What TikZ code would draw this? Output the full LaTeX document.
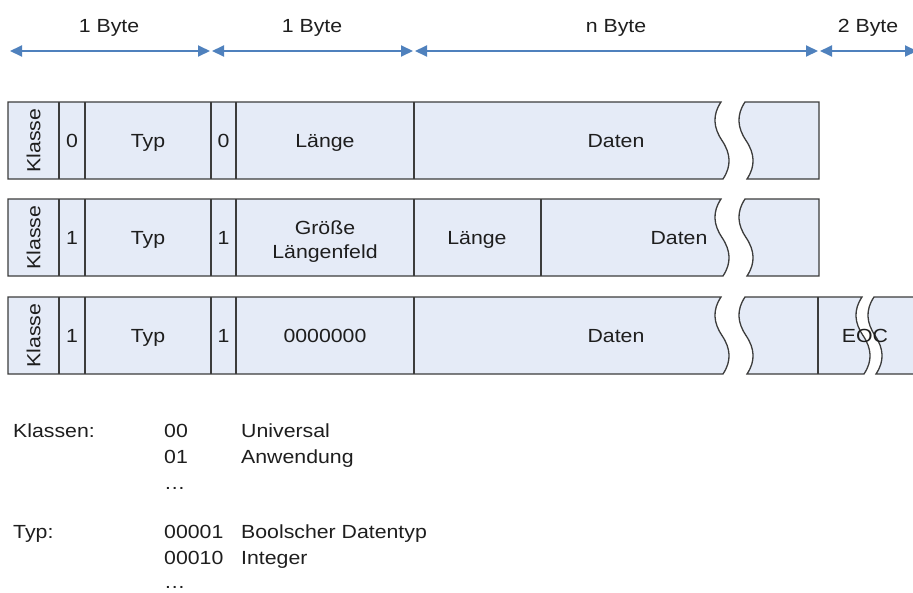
\documentclass[tikz,border=0pt]{standalone}
\usepackage{fontspec}
\usepackage{graphicx}
\setmainfont{Liberation Sans}
\usetikzlibrary{arrows.meta}

\definecolor{cellfill}{RGB}{229,235,247}
\definecolor{cellline}{RGB}{60,60,60}
\definecolor{spanblue}{RGB}{79,129,189}
\definecolor{inktext}{RGB}{30,30,30}

% slightly wide lettering
\newcommand\wtxt[1]{\scalebox{1.12}[1]{#1}}

\begin{document}
\begin{tikzpicture}[x=1pt,y=-1pt,
  every node/.style={font=\fontsize{19}{24}\selectfont, text=inktext, inner sep=0pt},
  cellbox/.style={fill=cellfill, draw=cellline, line width=1.3pt, line join=miter},
  sepline/.style={draw=cellline, line width=1.5pt},
  span/.style={draw=spanblue, line width=2pt,
    {Triangle[length=12pt,width=11pt]}-{Triangle[length=12pt,width=11pt]}},
  txt/.style={anchor=base},
  lbl/.style={anchor=base west},
]
\useasboundingbox (0,0) rectangle (913,592);

% ---- byte spans ----
\coordinate (s0) at (10,51);
\coordinate (s1) at (210,51);
\coordinate (s2) at (212,51);
\coordinate (s3) at (413,51);
\coordinate (s4) at (415,51);
\coordinate (s5) at (818,51);
\coordinate (s6) at (820,51);
\coordinate (s7) at (917,51);
\draw[span] (s0) -- (s1);
\draw[span] (s2) -- (s3);
\draw[span] (s4) -- (s5);
\draw[span] (s6) -- (s7);
\node[txt] (b1) at (109,32.5) {\wtxt{1 Byte}};
\node[txt] (b2) at (312,32.5) {\wtxt{1 Byte}};
\node[txt] (b3) at (616,32.5) {\wtxt{n Byte}};
\node[txt] (b4) at (868,32.5) {\wtxt{2 Byte}};

% ---- row 1: short length form ----
\begin{scope}[shift={(0,102)}]
  \path[cellbox] (8,0) -- (721,0)
    .. controls +(-8.7,13) and +(-8.7,-13) .. (722,38.5)
    .. controls +(8.7,13) and +(8.7,-13) .. (723,77) -- (8,77) -- cycle;
  \path[cellbox] (745,0) -- (819,0) -- (819,77) -- (747,77)
    .. controls +(8.7,-13) and +(8.7,13) .. (746,38.5)
    .. controls +(-8.7,-13) and +(-8.7,13) .. (745,0) -- cycle;
  \foreach \sx in {59,85,211,236,414} \draw[sepline] (\sx,0) -- (\sx,77);
  \node[rotate=90] (k1) at (33.5,38.5) {\wtxt{Klasse}};
  \node[txt] (f1) at (72,45) {\wtxt{0}};
  \node[txt] (t1) at (148,45) {\wtxt{Typ}};
  \node[txt] (g1) at (223.5,45) {\wtxt{0}};
  \node[txt] (l1) at (325,45) {\wtxt{Länge}};
  \node[txt] (d1) at (616,45) {\wtxt{Daten}};
\end{scope}

% ---- row 2: long length form ----
\begin{scope}[shift={(0,199)}]
  \path[cellbox] (8,0) -- (721,0)
    .. controls +(-8.7,13) and +(-8.7,-13) .. (722,38.5)
    .. controls +(8.7,13) and +(8.7,-13) .. (723,77) -- (8,77) -- cycle;
  \path[cellbox] (745,0) -- (819,0) -- (819,77) -- (747,77)
    .. controls +(8.7,-13) and +(8.7,13) .. (746,38.5)
    .. controls +(-8.7,-13) and +(-8.7,13) .. (745,0) -- cycle;
  \foreach \sx in {59,85,211,236,414,541} \draw[sepline] (\sx,0) -- (\sx,77);
  \node[rotate=90] (k2) at (33.5,38.5) {\wtxt{Klasse}};
  \node[txt] (f2) at (72,45) {\wtxt{1}};
  \node[txt] (t2) at (148,45) {\wtxt{Typ}};
  \node[txt] (g2) at (223.5,45) {\wtxt{1}};
  \node[txt] (z2a) at (325,35) {\wtxt{Größe}};
  \node[txt] (z2b) at (325,59) {\wtxt{Längenfeld}};
  \node[txt] (l2) at (477,45) {\wtxt{Länge}};
  \node[txt] (d2) at (679,45) {\wtxt{Daten}};
\end{scope}

% ---- row 3: indefinite length form ----
\begin{scope}[shift={(0,297)}]
  \path[cellbox] (8,0) -- (721,0)
    .. controls +(-8.7,13) and +(-8.7,-13) .. (722,38.5)
    .. controls +(8.7,13) and +(8.7,-13) .. (723,77) -- (8,77) -- cycle;
  \path[cellbox] (745,0) -- (862,0)
    .. controls +(-8.7,13) and +(-8.7,-13) .. (863,38.5)
    .. controls +(8.7,13) and +(8.7,-13) .. (864,77) -- (747,77)
    .. controls +(8.7,-13) and +(8.7,13) .. (746,38.5)
    .. controls +(-8.7,-13) and +(-8.7,13) .. (745,0) -- cycle;
  \path[cellbox] (874,0) -- (925,0) -- (925,77) -- (876,77)
    .. controls +(8.7,-13) and +(8.7,13) .. (875,38.5)
    .. controls +(-8.7,-13) and +(-8.7,13) .. (874,0) -- cycle;
  \foreach \sx in {59,85,211,236,414,818} \draw[sepline] (\sx,0) -- (\sx,77);
  \node[rotate=90] (k3) at (33.5,38.5) {\wtxt{Klasse}};
  \node[txt] (f3) at (72,45) {\wtxt{1}};
  \node[txt] (t3) at (148,45) {\wtxt{Typ}};
  \node[txt] (g3) at (223.5,45) {\wtxt{1}};
  \node[txt] (z3) at (325,45) {\wtxt{0000000}};
  \node[txt] (d3) at (616,45) {\wtxt{Daten}};
  \node[txt] (e3) at (865,45) {\wtxt{EOC}};
\end{scope}

% ---- legend ----
\node[lbl] (kl) at (13,437) {\wtxt{Klassen:}};
\node[lbl] (kc0) at (164,437) {\wtxt{00}};
\node[lbl] (kn0) at (241,437) {\wtxt{Universal}};
\node[lbl] (kc1) at (164,463) {\wtxt{01}};
\node[lbl] (kn1) at (241,463) {\wtxt{Anwendung}};
\node[lbl] (kc2) at (164,489) {\wtxt{…}};
\node[lbl] (ty) at (13,538) {\wtxt{Typ:}};
\node[lbl] (tc0) at (164,538) {\wtxt{00001}};
\node[lbl] (tn0) at (241,538) {\wtxt{Boolscher Datentyp}};
\node[lbl] (tc1) at (164,564) {\wtxt{00010}};
\node[lbl] (tn1) at (241,564) {\wtxt{Integer}};
\node[lbl] (tc2) at (164,588) {\wtxt{…}};
\end{tikzpicture}
\end{document}
